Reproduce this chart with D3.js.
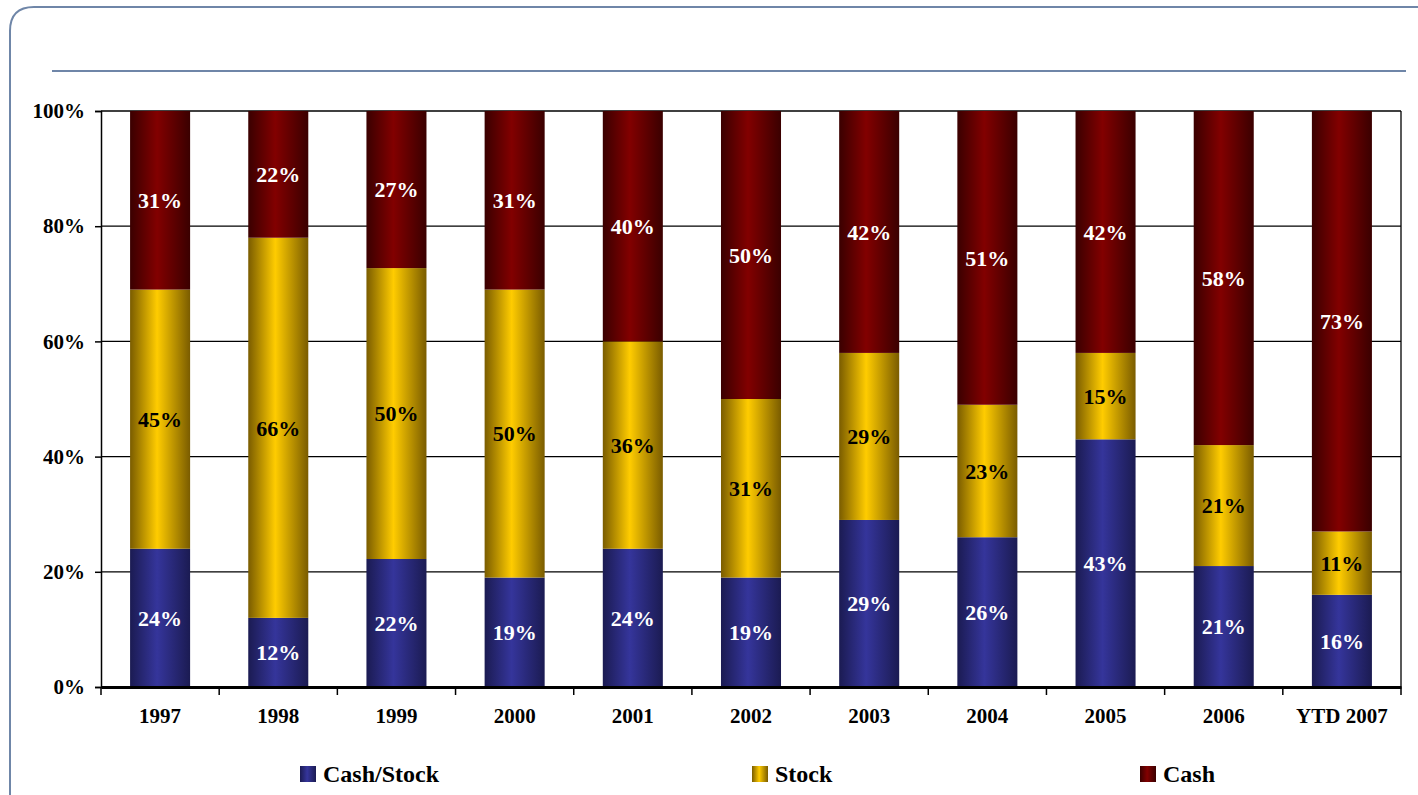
<!DOCTYPE html>
<html>
<head>
<meta charset="utf-8">
<script src="https://cdn.jsdelivr.net/npm/d3@7"></script>
<style>
  body { margin: 0; background: #fff; }
  svg { display: block; }
</style>
</head>
<body>
<script>
const width = 1418
const height = 795

const years = ['1997','1998','1999','2000','2001','2002','2003','2004','2005','2006','YTD 2007']
const cashStock = [24, 12, 22, 19, 24, 19, 29, 26, 43, 21, 16]
const stock = [45, 66, 50, 50, 36, 31, 29, 23, 15, 21, 11]
const cash = [31, 22, 27, 31, 40, 50, 42, 51, 42, 58, 73]
const seriesNames = ['Cash/Stock', 'Stock', 'Cash']
const yTicks = [0, 0.2, 0.4, 0.6, 0.8, 1]

const colors = {
    'Cash/Stock': { edge: '#1b1b52', mid: '#35359b', text: '#fff' },
    'Stock': { edge: '#7a5c00', mid: '#ffcc00', text: '#000' },
    'Cash': { edge: '#3a0000', mid: '#820000', text: '#fff' },
    frame: '#6f86a8'
}

const font = 'Liberation Serif, Times New Roman, serif'

const rows = years.map((y, i) => ({ year: y, 'Cash/Stock': cashStock[i], 'Stock': stock[i], 'Cash': cash[i] }))
const stacked = d3.stack().keys(seriesNames).offset(d3.stackOffsetExpand)(rows)

const margin = { left: 101, right: 17, top: 111, bottom: 108 }

const svg = d3.select('body').append('svg')
    .attr('width', width)
    .attr('height', height)

const defs = svg.append('defs')
seriesNames.forEach((name, i) => {
    const g = defs.append('linearGradient')
        .attr('id', 'grad' + i)
        .attr('x1', '0%').attr('x2', '100%')
        .attr('y1', '0%').attr('y2', '0%')
    g.append('stop').attr('offset', '0%').attr('stop-color', colors[name].edge)
    g.append('stop').attr('offset', '45%').attr('stop-color', colors[name].mid)
    g.append('stop').attr('offset', '100%').attr('stop-color', colors[name].edge)
})

// frame
svg.append('path')
    .attr('d', 'M10,800 L10,31 Q10,7 34,7 L1440,7')
    .attr('fill', 'none')
    .attr('stroke', colors.frame)
    .attr('stroke-width', 2)

svg.append('line')
    .attr('x1', 52).attr('x2', 1406)
    .attr('y1', 71).attr('y2', 71)
    .attr('stroke', colors.frame)
    .attr('stroke-width', 2)

const x = d3.scaleBand()
    .domain(years)
    .range([margin.left, width - margin.right])
    .paddingInner(0.492)
    .paddingOuter(0.246)

const y = d3.scaleLinear()
    .domain([0, 1])
    .range([height - margin.bottom, margin.top])

// grid
svg.append('g')
    .selectAll('line')
    .data(yTicks.slice(1))
    .enter().append('line')
    .attr('x1', margin.left).attr('x2', width - margin.right)
    .attr('y1', d => y(d)).attr('y2', d => y(d))
    .attr('stroke', '#000')
    .attr('stroke-width', 1.3)

// right border of plot area
svg.append('line')
    .attr('x1', width - margin.right).attr('x2', width - margin.right)
    .attr('y1', margin.top).attr('y2', height - margin.bottom)
    .attr('stroke', '#000')
    .attr('stroke-width', 1.3)

// bars
const layers = svg.append('g')
    .selectAll('g')
    .data(stacked)
    .enter().append('g')
    .attr('fill', (d, i) => `url(#grad${i})`)

layers.selectAll('rect')
    .data(d => d)
    .enter().append('rect')
    .attr('x', d => x(d.data.year))
    .attr('width', x.bandwidth())
    .attr('y', d => y(d[1]))
    .attr('height', d => y(d[0]) - y(d[1]))

// value labels
svg.append('g')
    .selectAll('g')
    .data(stacked)
    .enter().append('g')
    .attr('fill', d => colors[d.key].text)
    .each(function (layer) {
        d3.select(this).selectAll('text')
            .data(layer)
            .enter().append('text')
            .attr('x', d => x(d.data.year) + x.bandwidth() / 2)
            .attr('y', d => (y(d[0]) + y(d[1])) / 2)
            .attr('dy', '0.35em')
            .attr('text-anchor', 'middle')
            .attr('font-family', font)
            .attr('font-weight', 'bold')
            .attr('font-size', 22)
            .text(d => d.data[layer.key] + '%')
    })

// y axis
const yAxis = svg.append('g')
    .attr('transform', `translate(${margin.left},0)`)
    .call(d3.axisLeft(y).tickValues(yTicks).tickFormat(d3.format('.0%')).tickSize(6).tickPadding(10))
yAxis.select('.domain').attr('stroke-width', 1.5)
yAxis.selectAll('.tick line').attr('stroke-width', 1.5)
yAxis.selectAll('text')
    .attr('font-family', font)
    .attr('font-weight', 'bold')
    .attr('font-size', 21)
    .attr('fill', '#000')

// x axis
const xAxis = svg.append('g')
    .attr('transform', `translate(0,${height - margin.bottom})`)
    .call(d3.axisBottom(x).tickSize(0).tickPadding(21))
xAxis.select('.domain').attr('stroke-width', 3)
xAxis.selectAll('text')
    .attr('font-family', font)
    .attr('font-weight', 'bold')
    .attr('font-size', 21)
    .attr('fill', '#000')

const step = x.step()
xAxis.append('g')
    .selectAll('line')
    .data(d3.range(years.length + 1))
    .enter().append('line')
    .attr('x1', i => margin.left + i * step)
    .attr('x2', i => margin.left + i * step)
    .attr('y1', 0).attr('y2', 8)
    .attr('stroke', '#000')
    .attr('stroke-width', 1.5)

// legend
const legendX = [300, 752, 1140]
const legend = svg.append('g')
    .selectAll('g')
    .data(seriesNames)
    .enter().append('g')
    .attr('transform', (d, i) => `translate(${legendX[i]},766)`)

legend.append('rect')
    .attr('width', 16).attr('height', 16)
    .attr('fill', (d, i) => `url(#grad${i})`)

legend.append('text')
    .attr('x', 23)
    .attr('y', 8)
    .attr('dy', '0.35em')
    .attr('font-family', font)
    .attr('font-weight', 'bold')
    .attr('font-size', 24)
    .text(d => d)
</script>
</body>
</html>
